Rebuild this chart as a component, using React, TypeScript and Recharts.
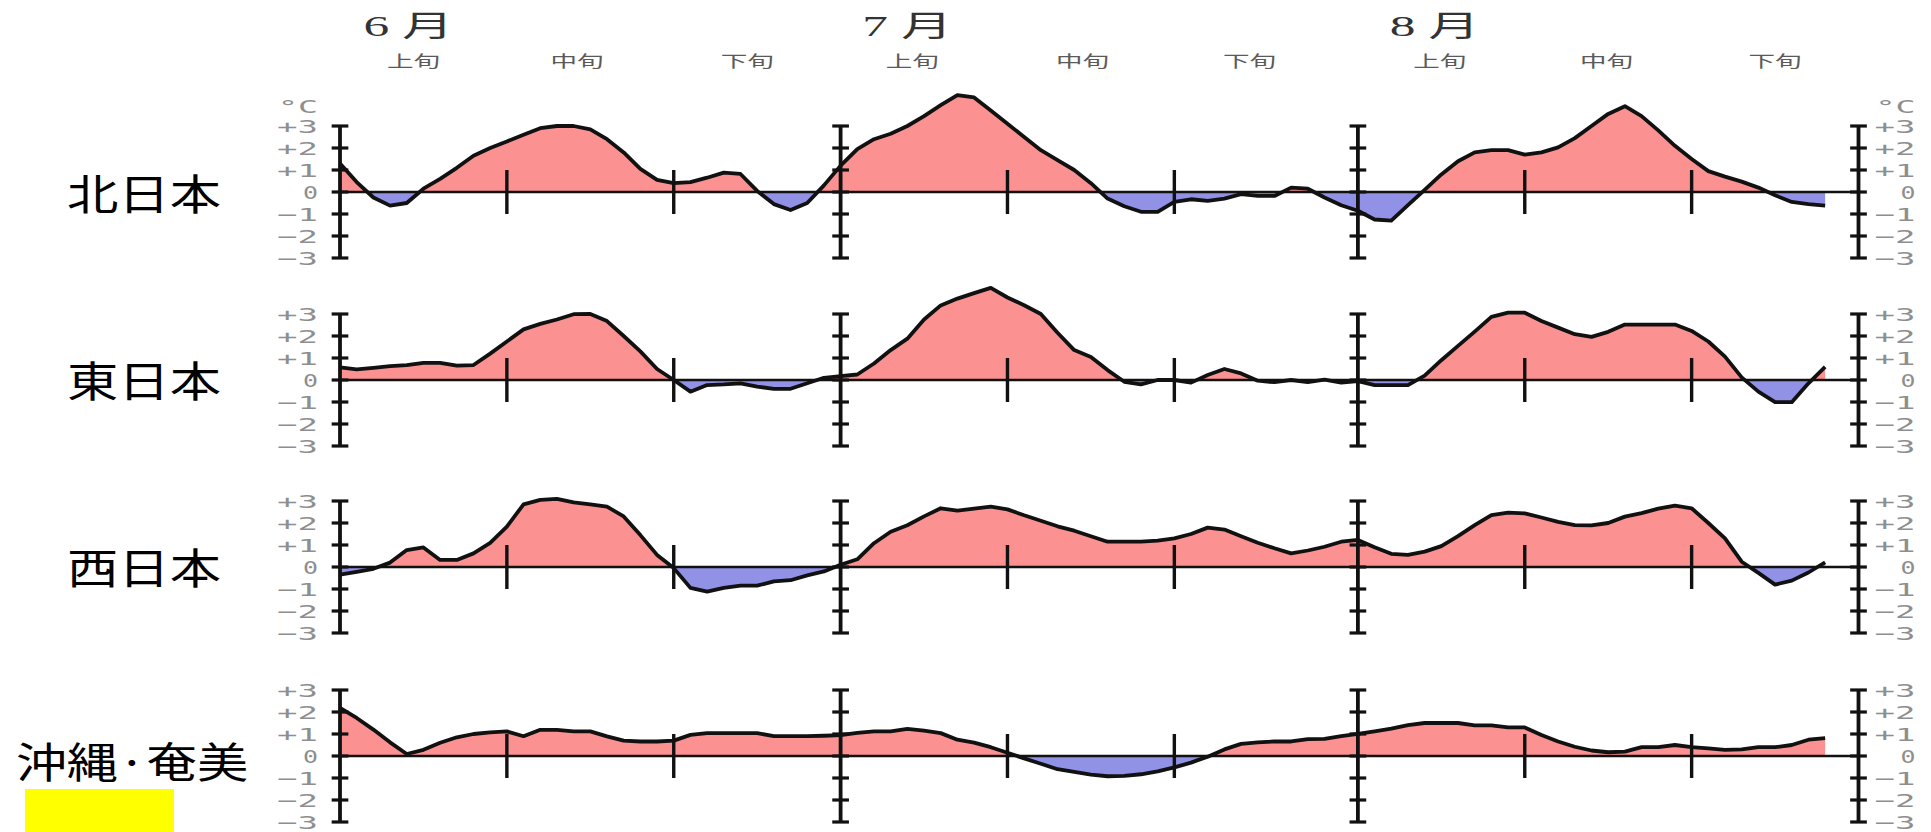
import React from 'react';
import { ComposedChart, Area, Line, XAxis, YAxis, ReferenceLine } from 'recharts';

// ---- data (daily temperature anomaly, °C; day 0 = 6/1) ----
const regionNames = ['北日本', '東日本', '西日本', '沖縄·奄美'];
const monthLabels = ['6 月', '7 月', '8 月'];
const dekadLabels = ['上旬', '中旬', '下旬'];
// label positions (days from 6/1) of the 旬 captions
const dekadLabelDays = [4.4, 14.2, 24.4, 34.3, 44.5, 54.5, 65.9, 75.9, 86.0];
// axis positions: 6/1, 7/1, 8/1 and right end
const axisDays = [0, 30, 61, 91];
// 旬 boundaries (short marks)
const dekadTickDays = [10, 20, 40, 50, 71, 81];
const yTicks = [-3, -2, -1, 0, 1, 2, 3];

const northJapan = [
  1.3, 0.45, -0.25, -0.62, -0.5, 0.15, 0.6, 1.1, 1.65, 2.0,
  2.3, 2.6, 2.9, 3.0, 3.0, 2.85, 2.4, 1.8, 1.05, 0.55,
  0.4, 0.45, 0.65, 0.88, 0.82, 0.05, -0.55, -0.82, -0.5, 0.3,
  1.2, 1.95, 2.4, 2.65, 3.0, 3.45, 3.95, 4.4, 4.3, 3.7,
  3.1, 2.5, 1.9, 1.45, 1.0, 0.4, -0.3, -0.65, -0.9, -0.9,
  -0.45, -0.33, -0.4, -0.3, -0.1, -0.18, -0.18, 0.2, 0.15, -0.25,
  -0.6, -0.85, -1.25, -1.3, -0.6, 0.1, 0.8, 1.4, 1.8, 1.9,
  1.9, 1.7, 1.8, 2.03, 2.45, 3.0, 3.55, 3.9, 3.45, 2.8,
  2.1, 1.5, 0.95, 0.7, 0.47, 0.2, -0.15, -0.45, -0.55, -0.62,
];
const eastJapan = [
  0.57, 0.48, 0.55, 0.63, 0.68, 0.78, 0.78, 0.65, 0.68, 1.2,
  1.75, 2.3, 2.55, 2.75, 2.99, 3.0, 2.68, 2.0, 1.3, 0.5,
  0.0, -0.53, -0.23, -0.2, -0.15, -0.3, -0.4, -0.4, -0.15, 0.1,
  0.18, 0.25, 0.75, 1.36, 1.88, 2.75, 3.39, 3.7, 3.95, 4.19,
  3.75, 3.4, 3.0, 2.15, 1.36, 1.05, 0.45, -0.08, -0.2, 0.0,
  0.0, -0.12, 0.23, 0.5, 0.3, -0.03, -0.1, 0.0, -0.1, 0.02,
  -0.12, -0.05, -0.23, -0.23, -0.23, 0.2, 0.9, 1.55, 2.2, 2.87,
  3.06, 3.06, 2.68, 2.38, 2.08, 1.96, 2.19, 2.52, 2.52, 2.52,
  2.52, 2.23, 1.75, 1.06, 0.12, -0.53, -1.01, -1.01, -0.15, 0.6,
];
const westJapan = [
  -0.35, -0.22, -0.08, 0.2, 0.77, 0.89, 0.32, 0.32, 0.62, 1.1,
  1.83, 2.85, 3.05, 3.1, 2.94, 2.85, 2.74, 2.3, 1.45, 0.55,
  -0.05, -0.95, -1.12, -0.95, -0.85, -0.85, -0.65, -0.6, -0.38, -0.2,
  0.1, 0.35, 1.08, 1.6, 1.9, 2.3, 2.67, 2.56, 2.65, 2.74,
  2.62, 2.35, 2.1, 1.85, 1.65, 1.4, 1.15, 1.15, 1.15, 1.2,
  1.3, 1.5, 1.79, 1.7, 1.4, 1.1, 0.85, 0.62, 0.75, 0.92,
  1.15, 1.23, 0.9, 0.6, 0.55, 0.7, 0.95, 1.4, 1.9, 2.36,
  2.47, 2.44, 2.25, 2.05, 1.9, 1.89, 2.0, 2.29, 2.45, 2.65,
  2.79, 2.67, 2.0, 1.3, 0.24, -0.27, -0.8, -0.62, -0.25, 0.21,
];
const okinawaAmami = [
  2.19, 1.73, 1.2, 0.62, 0.09, 0.28, 0.6, 0.85, 1.0, 1.07,
  1.12, 0.9, 1.19, 1.19, 1.12, 1.12, 0.89, 0.7, 0.66, 0.66,
  0.7, 0.96, 1.04, 1.04, 1.04, 1.04, 0.9, 0.9, 0.9, 0.92,
  0.95, 1.05, 1.12, 1.12, 1.23, 1.15, 1.04, 0.74, 0.61, 0.4,
  0.15, -0.11, -0.35, -0.6, -0.72, -0.85, -0.92, -0.9, -0.83, -0.7,
  -0.52, -0.3, -0.03, 0.3, 0.55, 0.62, 0.66, 0.66, 0.77, 0.78,
  0.9, 1.01, 1.12, 1.24, 1.4, 1.5, 1.5, 1.5, 1.39, 1.39,
  1.3, 1.3, 0.95, 0.66, 0.42, 0.25, 0.17, 0.2, 0.4, 0.4,
  0.5, 0.4, 0.35, 0.28, 0.3, 0.4, 0.4, 0.5, 0.74, 0.81,
];
const seriesList = [northJapan, eastJapan, westJapan, okinawaAmami];

// ---- layout / style ----
const W = 1931;
const LEFT_W = 340;
const RIGHT_W = 72.5;
const PLOT_H = 220;
const HEADER_H = 82;
const panelTops = [0, 270, 457, 646];
const labelBaselines = [210, 397, 584, 778];
const RED = '#fb9191';
const BLUE = '#9191e6';
const INK = '#111';
const CJK = '"Noto Sans CJK JP", sans-serif';

function HeaderTick(props: any) {
  const { x, y, index } = props;
  const i = index ?? 0;
  return (
    <g>
      {i % 3 === 0 && (
        <text
          x={x - 5}
          y={y - 46}
          textAnchor="middle"
          fontFamily='"Liberation Serif", "Noto Sans CJK JP", serif'
          fontSize={30}
          fill="#333"
          textLength={90}
          lengthAdjust="spacingAndGlyphs"
        >
          {monthLabels[i / 3]}
        </text>
      )}
      <text
        x={x}
        y={y - 15}
        textAnchor="middle"
        fontFamily={CJK}
        fontSize={16}
        fill="#5a5a5a"
        textLength={53}
        lengthAdjust="spacingAndGlyphs"
      >
        {dekadLabels[i % 3]}
      </text>
    </g>
  );
}

function makeYTick(side: 'left' | 'right', unit: boolean) {
  return (props: any) => {
    const { x, y, payload } = props;
    const v = Number(payload.value);
    const label = v > 0 ? `+${v}` : v < 0 ? `\u2212${-v}` : '0';
    const tx = side === 'left' ? x - 22 : x + 57;
    return (
      <g>
        <text
          x={tx}
          y={y + 6.5}
          textAnchor="end"
          fontFamily='"DejaVu Sans Mono", monospace'
          fontSize={18}
          fill="#8e8e8e"
          textLength={v === 0 ? 15 : 41}
          lengthAdjust="spacingAndGlyphs"
        >
          {label}
        </text>
        {unit && v === 3 && (
          <text
            x={tx}
            y={y - 13}
            textAnchor="end"
            fontFamily='"DejaVu Sans Mono", monospace'
            fontSize={18}
            fill="#8e8e8e"
            textLength={40}
            lengthAdjust="spacingAndGlyphs"
          >
            °C
          </text>
        )}
      </g>
    );
  };
}

function Panel({ values, idx }: { values: number[]; idx: number }) {
  const header = idx === 0;
  const data = values.map((v, i) => ({ day: i, v }));
  const max = Math.max(...values);
  const min = Math.min(...values);
  const off = max <= 0 ? 0 : min >= 0 ? 1 : max / (max - min);
  const gid = `anom-${idx}`;
  const leftTick = makeYTick('left', header);
  const rightTick = makeYTick('right', header);
  return (
    <div style={{ position: 'absolute', left: 0, top: panelTops[idx] }}>
      <ComposedChart
        width={W}
        height={PLOT_H + (header ? HEADER_H : 0)}
        data={data}
        margin={{ top: 0, right: 0, bottom: 0, left: 0 }}
      >
        <defs>
          <linearGradient id={gid} x1="0" y1="0" x2="0" y2="1">
            <stop offset={off} stopColor={RED} />
            <stop offset={off} stopColor={BLUE} />
          </linearGradient>
        </defs>
        {header ? (
          <XAxis
            dataKey="day"
            type="number"
            domain={[0, 91]}
            orientation="top"
            height={HEADER_H}
            ticks={dekadLabelDays}
            interval={0}
            axisLine={false}
            tickLine={false}
            tickSize={0}
            tickMargin={0}
            tick={HeaderTick}
          />
        ) : (
          <XAxis dataKey="day" type="number" domain={[0, 91]} hide />
        )}
        <YAxis
          yAxisId="left"
          type="number"
          domain={[-5, 5]}
          ticks={yTicks}
          interval={0}
          width={LEFT_W}
          axisLine={false}
          tickLine={false}
          tickSize={0}
          tickMargin={0}
          tick={leftTick}
        />
        <YAxis
          yAxisId="right"
          orientation="right"
          type="number"
          domain={[-5, 5]}
          ticks={yTicks}
          interval={0}
          width={RIGHT_W}
          axisLine={false}
          tickLine={false}
          tickSize={0}
          tickMargin={0}
          tick={rightTick}
        />
        <Area
          yAxisId="left"
          type="linear"
          dataKey="v"
          baseValue={0}
          stroke="none"
          fill={`url(#${gid})`}
          fillOpacity={1}
          dot={false}
          activeDot={false}
          isAnimationActive={false}
        />
        <ReferenceLine yAxisId="left" y={0} stroke={INK} strokeWidth={2.5} />
        {axisDays.map((d) => (
          <ReferenceLine
            key={`ax-${d}`}
            yAxisId="left"
            segment={[{ x: d, y: -3 }, { x: d, y: 3 }]}
            stroke={INK}
            strokeWidth={3.8}
            ifOverflow="visible"
          />
        ))}
        {axisDays.map((d) =>
          yTicks.map((t) => (
            <ReferenceLine
              key={`cr-${d}-${t}`}
              yAxisId="left"
              segment={[{ x: d - 0.5, y: t }, { x: d + 0.5, y: t }]}
              stroke={INK}
              strokeWidth={3.2}
              ifOverflow="visible"
            />
          ))
        )}
        {dekadTickDays.map((d) => (
          <ReferenceLine
            key={`dk-${d}`}
            yAxisId="left"
            segment={[{ x: d, y: -1 }, { x: d, y: 1 }]}
            stroke={INK}
            strokeWidth={3.4}
            ifOverflow="visible"
          />
        ))}
        <Line
          yAxisId="right"
          type="linear"
          dataKey="v"
          stroke={INK}
          strokeWidth={3.8}
          strokeLinejoin="round"
          dot={false}
          activeDot={false}
          isAnimationActive={false}
        />
      </ComposedChart>
    </div>
  );
}

export default function App() {
  return (
    <div
      style={{
        position: 'absolute',
        left: 0,
        top: 0,
        width: W,
        height: 832,
        overflow: 'hidden',
        background: '#fff',
      }}
    >
      {seriesList.map((values, idx) => (
        <Panel key={regionNames[idx]} values={values} idx={idx} />
      ))}
      <div
        style={{
          position: 'absolute',
          left: 25,
          top: 789,
          width: 149,
          height: 60,
          background: '#ffff00',
        }}
      />
      <svg
        width={W}
        height={832}
        style={{ position: 'absolute', left: 0, top: 0, pointerEvents: 'none' }}
      >
        {regionNames.map((name, i) => {
          const wide = name.length > 3;
          return (
            <text
              key={name}
              x={wide ? 16 : 67}
              y={labelBaselines[i]}
              fontFamily={CJK}
              fontSize={42}
              fill="#000"
              textLength={wide ? 232 : 154}
              lengthAdjust="spacingAndGlyphs"
            >
              {name}
            </text>
          );
        })}
      </svg>
    </div>
  );
}
